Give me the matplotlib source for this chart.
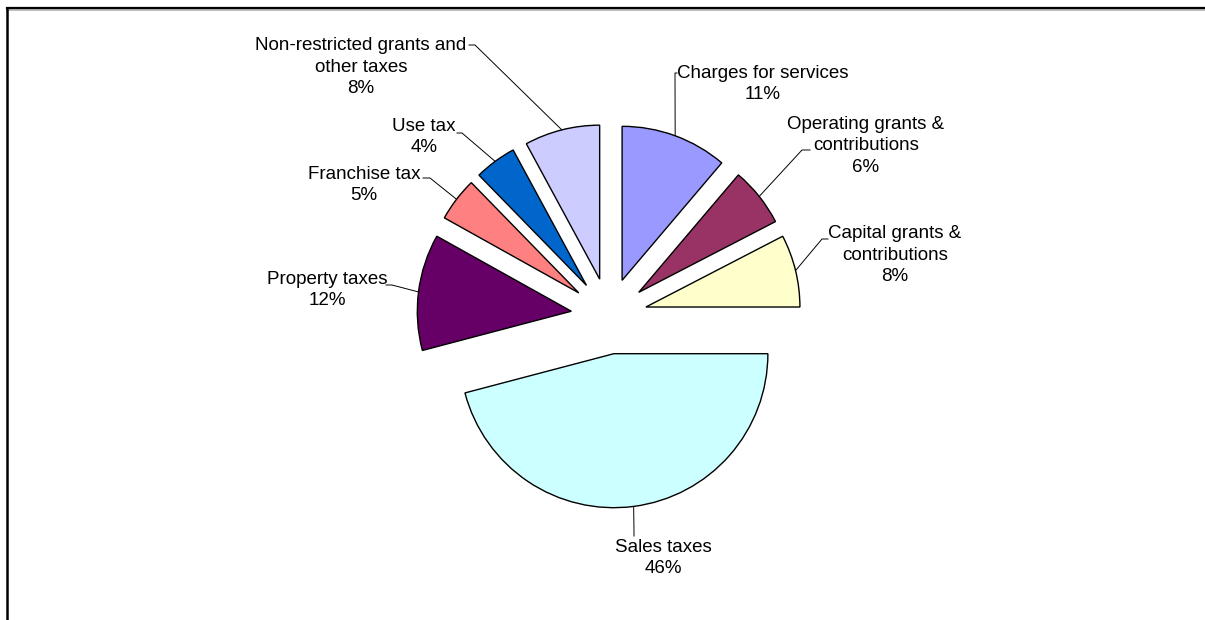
import numpy as np
import matplotlib.pyplot as plt

# revenue shares (clockwise from 12 o'clock)
labels = ['Charges for services', 'Operating grants &\ncontributions',
          'Capital grants &\ncontributions', 'Sales taxes', 'Property taxes',
          'Franchise tax', 'Use tax', 'Non-restricted grants and\nother taxes']
shares = [11.2, 6.2, 7.6, 45.9, 12.2, 4.6, 4.4, 7.9]
pct_labels = ['11%', '6%', '8%', '46%', '12%', '5%', '4%', '8%']
colors = ['#9999FF', '#993366', '#FFFFCC', '#CCFFFF', '#660066',
          '#FF8080', '#0066CC', '#CCCCFF']

# label placement in pixels (y measured from the top)
label_xy = [(763, 84), (866, 146), (895, 255), (663, 558),
            (327, 290), (364, 185), (424, 137), (361, 67)]
knee_xy = [(675, 73), (802, 150), (822, 239), (634, 533),
           (392, 285), (430, 178), (462, 133), (475, 45)]
stub_xy = [(677, 73), (810, 150), (828, 239), (634, 536),
           (386, 285), (423, 178), (457, 133), (469, 45)]

W, H = 1205, 620
plt.rcParams['font.family'] = ['Liberation Sans', 'DejaVu Sans']

fig = plt.figure(figsize=(W / 100, H / 100), dpi=100)
ax = fig.add_axes([0, 0, 1, 1])


def py(y):
    return H - y


cx, cy, r, gap = 609, 316, 154, 38
wedges, _ = ax.pie(shares, colors=colors, startangle=90, counterclock=False,
                   radius=r, center=(cx, py(cy)), explode=[gap] * len(shares),
                   wedgeprops=dict(edgecolor='black', linewidth=1.0), frame=True)
ax.set_xlim(0, W)
ax.set_ylim(0, H)
ax.axis('off')

for w, lab, pct, (tx, ty), (kx, ky), (sx, sy) in zip(
        wedges, labels, pct_labels, label_xy, knee_xy, stub_xy):
    mid = np.deg2rad((w.theta1 + w.theta2) / 2)
    ax0 = w.center[0] + w.r * np.cos(mid)
    ay0 = w.center[1] + w.r * np.sin(mid)
    ax.plot([sx, kx, ax0], [py(sy), py(ky), ay0], color='black', lw=0.7)
    ax.text(tx, py(ty), lab + '\n' + pct, ha='center', va='center',
            multialignment='center', fontsize=13.5, linespacing=1.38,
            color='black')

# chart border (only the top and left edges are inside the picture)
ax.plot([7, W], [py(10), py(10)], color='#b0b0b0', lw=1.2)
ax.plot([7, W], [py(8), py(8)], color='black', lw=1.6)
ax.plot([7, 7], [py(8), 0], color='black', lw=1.8)

fig.savefig('out.png', dpi=100)
